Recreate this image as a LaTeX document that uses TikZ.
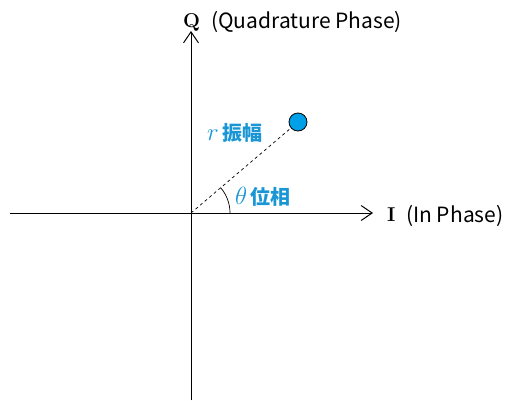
\documentclass[tikz,border=0pt]{standalone}
\usepackage{fontspec}
\usetikzlibrary{arrows.meta}
\setsansfont{Noto Sans CJK JP}
\newfontfamily\jpfont{Noto Sans CJK JP}
\definecolor{pt}{HTML}{00A0E9}
\definecolor{lbl}{HTML}{1A96D4}
\begin{document}
\begin{tikzpicture}[x=1pt,y=-1pt,
  axis/.style={line width=1pt,-{Straight Barb[length=11pt,width=15pt,line width=1pt]}},
  lab/.style={inner sep=0pt,anchor=base west},
  blab/.style={inner sep=0pt,anchor=base west,text=lbl,font=\jpfont\bfseries\fontsize{20}{20}\selectfont}]
\useasboundingbox (0,0) rectangle (507,400);
\coordinate (O) at (191,213);
\coordinate (L) at (10,213);
\coordinate (R) at (373,213);
\coordinate (B) at (191,400);
\coordinate (T) at (191,31);
\draw[axis] (L) -- (R);
\draw[axis] (B) -- (T);
\node[circle,draw=black,fill=pt,minimum size=18pt,inner sep=0pt,line width=0.8pt] (P) at (298,122) {};
\draw[dashed,line width=0.7pt,dash pattern=on 3pt off 3pt] (O) -- (P);
\draw[line width=0.7pt] (230,213) arc[start angle=0,end angle=-40.4,radius=39];
\node[lab,font=\rmfamily\bfseries\fontsize{20}{20}\selectfont] (Q) at (183,27) {Q};
\node[lab,font=\jpfont\fontsize{21}{21}\selectfont] (Qt) at (211,28) {(Quadrature Phase)};
\node[lab,font=\rmfamily\bfseries\fontsize{20}{20}\selectfont] (I) at (387,221) {I};
\node[lab,font=\jpfont\fontsize{21}{21}\selectfont] (It) at (406,222) {(In Phase)};
\node[blab] (r) at (207,140) {{\fontsize{23}{23}\selectfont$r$}\,振幅};
\node[blab] (th) at (235,204) {{\fontsize{23}{23}\selectfont$\theta$}\,位相};
\end{tikzpicture}
\end{document}
